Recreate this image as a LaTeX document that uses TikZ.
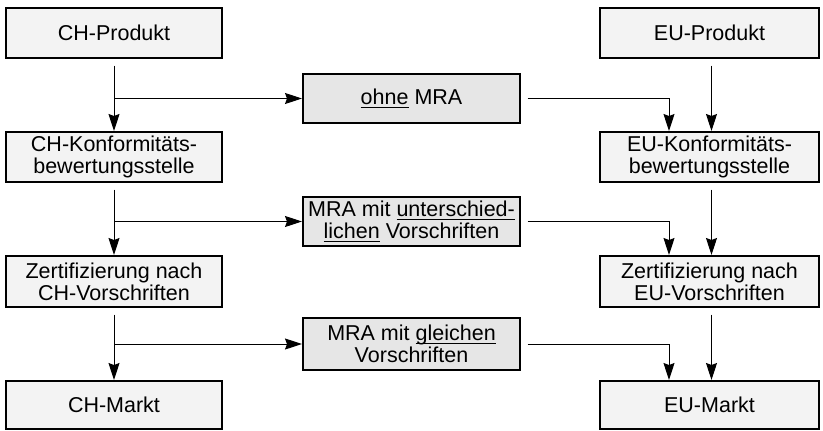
\documentclass[tikz,border=0pt]{standalone}
\usepackage{fontspec}
\setmainfont{Liberation Sans}
\usetikzlibrary{arrows.meta}
\newsavebox{\myulbox}
\newcommand{\myul}[1]{\sbox{\myulbox}{#1}\rlap{\rule[-3pt]{\wd\myulbox}{1pt}}\usebox{\myulbox}}
\definecolor{boxfill}{HTML}{F3F3F3}
\definecolor{mrafill}{HTML}{E6E6E6}
\begin{document}
\begin{tikzpicture}[x=1pt,y=-1pt,
  box/.style={draw=black, line width=2pt, fill=boxfill, minimum width=216pt,
    minimum height=50pt, inner sep=0pt, align=center,
    font=\fontsize{21.5}{22}\selectfont},
  eubox/.style={box, minimum width=219pt},
  mrabox/.style={box, fill=mrafill, minimum width=217pt},
  conn/.style={line width=1pt, -{Stealth[length=17pt,width=11pt,inset=2pt]}},
  gap/.style={shorten <=6.5pt},
]
\useasboundingbox (0,0) rectangle (823,431);
% left column
\node[box, minimum height=50pt] (chp) at (114,33) {CH-Produkt};
\node[box] (chk) at (114,157) {CH-Konformitäts-\\bewertungsstelle};
\node[box, minimum height=51pt] (chz) at (114,281.5) {Zertifizierung nach\\CH-Vorschriften};
\node[box, minimum height=48pt] (chm) at (114,405) {CH-Markt};
% right column
\node[eubox, minimum height=50pt] (eup) at (709.5,33) {EU-Produkt};
\node[eubox] (euk) at (709.5,157) {EU-Konformitäts-\\bewertungsstelle};
\node[eubox, minimum height=51pt] (euz) at (709.5,281.5) {Zertifizierung nach\\EU-Vorschriften};
\node[eubox, minimum height=48pt] (eum) at (709.5,405) {EU-Markt};
% MRA boxes
\node[mrabox, minimum height=49pt] (m1) at (411.5,98.5) {\myul{ohne} MRA};
\node[mrabox, minimum height=49pt] (m2) at (411.5,221.5) {MRA mit \myul{unterschied-}\\\myul{lichen} Vorschriften};
\node[mrabox, minimum height=52pt] (m3) at (411.5,344) {MRA mit \myul{gleichen}\\Vorschriften};
% left connectors
\draw[conn, gap] (chp.south) -- (chk.north);
\draw[conn, gap] (chk.south) -- (chz.north);
\draw[conn, gap] (chz.south) -- (chm.north);
\draw[conn] (chp.south |- m1.west) -- (m1.west);
\draw[conn] (chk.south |- m2.west) -- (m2.west);
\draw[conn] (chz.south |- m3.west) -- (m3.west);
% right connectors
\draw[conn, gap] ([xshift=2pt]eup.south) -- ([xshift=2pt]euk.north);
\draw[conn, gap] ([xshift=2pt]euk.south) -- ([xshift=2pt]euz.north);
\draw[conn, gap] ([xshift=2pt]euz.south) -- ([xshift=2pt]eum.north);
\draw[conn, gap] (m1.east) -| ([xshift=-40.5pt]euk.north);
\draw[conn, gap] (m2.east) -| ([xshift=-40.5pt]euz.north);
\draw[conn, gap] (m3.east) -| ([xshift=-40.5pt]eum.north);
\end{tikzpicture}
\end{document}
